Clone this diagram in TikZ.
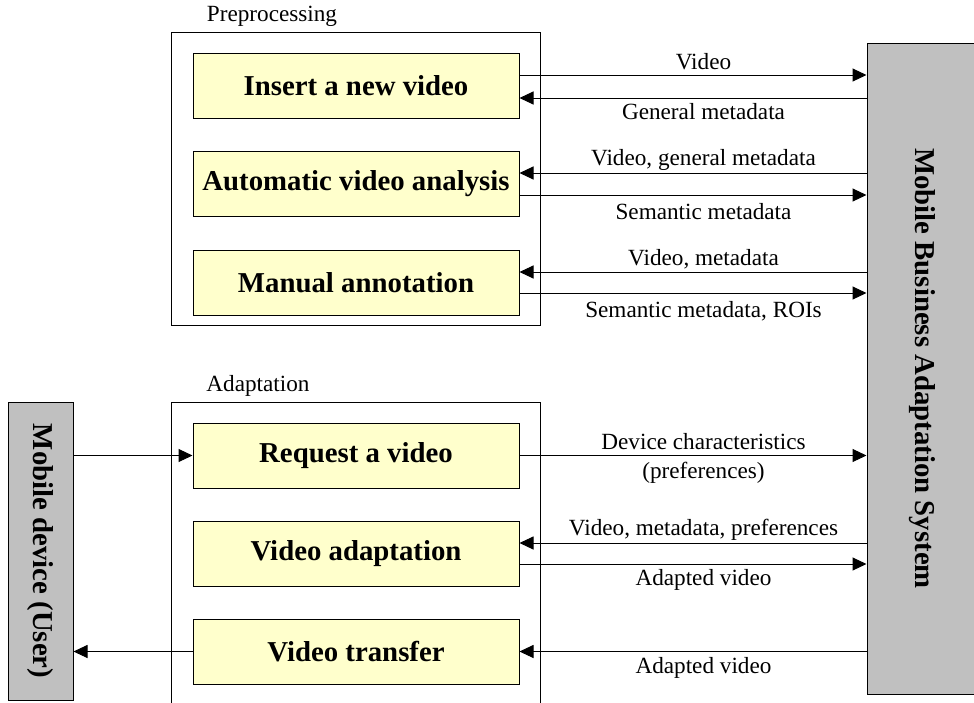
\documentclass[tikz,border=0pt]{standalone}
\usepackage{fontspec}
\setmainfont{Liberation Serif}
\usetikzlibrary{shapes,arrows.meta}

\definecolor{boxyellow}{HTML}{FFFFCC}
\definecolor{sysgray}{HTML}{C0C0C0}

\begin{document}
\begin{tikzpicture}[x=0.5pt,y=-0.5pt,line width=0.5pt,
  >={Triangle[length=7pt,width=6.5pt]},
  frame/.style={shape=rectangle,draw=black,minimum width=184.5pt},
  task/.style={shape=rectangle,draw=black,fill=boxyellow,minimum width=163pt,minimum height=32.5pt,
    font=\fontsize{14.4}{17}\selectfont\bfseries},
  actor/.style={shape=rectangle,draw=black,fill=sysgray,rotate=-90,
    font=\fontsize{14.4}{17}\selectfont\bfseries},
  lbl/.style={inner sep=0pt,align=center,yshift=-1.5pt,font=\fontsize{11.6}{14.5}\selectfont,text height=1.5ex,text depth=.25ex},
  flow/.style={->}]
\useasboundingbox (0,0) rectangle (974,702);
\clip (0,0) rectangle (974,702);
\node[frame,minimum height=146.5pt] (0) at (355.5,178.5) {};
\node[lbl] (0l) at (272,13) {Preprocessing};
\node[task] (1) at (356,86) {Insert a new video};
\node[task] (2) at (356,184) {Automatic video analysis};
\node[task] (3) at (356,282.5) {Manual annotation};
\node[frame,minimum height=159pt] (4) at (355.5,561) {};
\node[lbl] (4l) at (258,383) {Adaptation};
\node[task] (5) at (356,455.5) {Request a video};
\node[task] (6) at (356,553.5) {Video adaptation};
\node[task] (7) at (356,651.5) {Video transfer};
% rotated boxes: south is the left side, north the right side
\node[actor,minimum width=325.5pt,minimum height=55pt] (8) at (922,368.5) {Mobile Business Adaptation System};
\node[actor,minimum width=149pt,minimum height=32.5pt] (9) at (40.5,551) {Mobile device (User)};

% preprocessing flows
\draw[flow] ([yshift=5.5pt]1.east) -- ([yshift=5.5pt]1.east -| 8.south);
\draw[flow] ([yshift=-6pt]1.east -| 8.south) -- ([yshift=-6pt]1.east);
\draw[flow] ([yshift=5.5pt]2.east -| 8.south) -- ([yshift=5.5pt]2.east);
\draw[flow] ([yshift=-5.5pt]2.east) -- ([yshift=-5.5pt]2.east -| 8.south);
\draw[flow] ([yshift=5.25pt]3.east -| 8.south) -- ([yshift=5.25pt]3.east);
\draw[flow] ([yshift=-5.25pt]3.east) -- ([yshift=-5.25pt]3.east -| 8.south);
\node[lbl] at (703.5,61) {Video};
\node[lbl] at (703.5,111) {General metadata};
\node[lbl] at (703.5,157) {Video, general metadata};
\node[lbl] at (703.5,211) {Semantic metadata};
\node[lbl] at (703.5,257) {Video, metadata};
\node[lbl] at (703.5,309) {Semantic metadata, ROIs};

% adaptation flows
\draw[flow] (9.north |- 5.west) -- (5.west);
\draw[flow] (5.east) -- (5.east -| 8.south);
\draw[flow] ([yshift=5.25pt]6.east -| 8.south) -- ([yshift=5.25pt]6.east);
\draw[flow] ([yshift=-5.25pt]6.east) -- ([yshift=-5.25pt]6.east -| 8.south);
\draw[flow] (7.east -| 8.south) -- (7.east);
\draw[flow] (7.west) -- (7.west -| 9.north);
\node[lbl] at (703.5,441) {Device characteristics};
\node[lbl] at (703.5,470) {(preferences)};
\node[lbl] at (703.5,527) {Video, metadata, preferences};
\node[lbl] at (703.5,577) {Adapted video};
\node[lbl] at (703.5,665) {Adapted video};
\end{tikzpicture}
\end{document}
